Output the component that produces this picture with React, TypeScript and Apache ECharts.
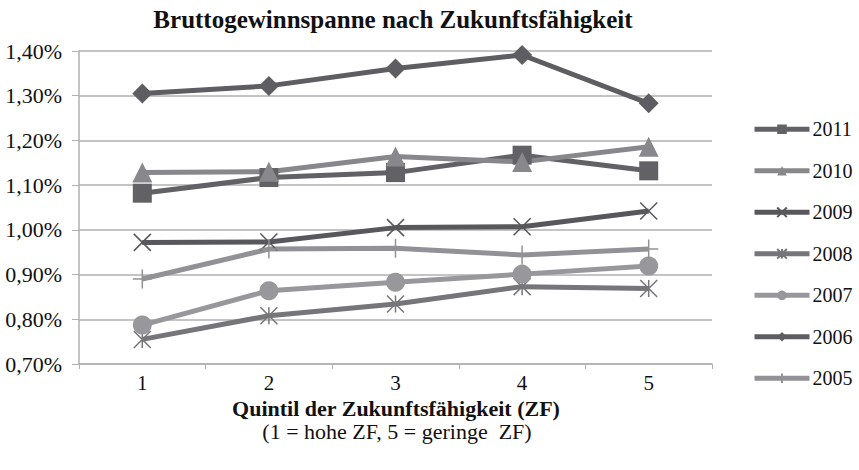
import React, { useEffect, useRef } from "react";
import * as echarts from "echarts";

const categories = ["1", "2", "3", "4", "5"];
const years = ["2011", "2010", "2009", "2008", "2007", "2006", "2005"];
const v2011 = [1.082, 1.117, 1.128, 1.167, 1.132];
const v2010 = [1.128, 1.13, 1.164, 1.152, 1.186];
const v2009 = [0.972, 0.973, 1.005, 1.007, 1.042];
const v2008 = [0.755, 0.808, 0.834, 0.873, 0.869];
const v2007 = [0.787, 0.864, 0.883, 0.901, 0.919];
const v2006 = [1.305, 1.322, 1.361, 1.391, 1.283];
const v2005 = [0.89, 0.957, 0.959, 0.944, 0.957];
const seriesValues = [v2011, v2010, v2009, v2008, v2007, v2006, v2005];
const colors = ["#626266", "#88888c", "#58585c", "#76767a", "#98989c", "#5e5e62", "#929296"];
const symbols = [
  "rect",
  "triangle",
  "path://M0,0L10,10M10,0L0,10",
  "path://M0,0L10,10M10,0L0,10M5,0L5,10",
  "circle",
  "diamond",
  "path://M5,0L5,10M0,5L10,5",
];
const symbolSizes = [19, 20, 17, 17, 19, 20, 19];
const strokeOnly = [false, false, true, true, false, false, true];

const FONT = "'Liberation Serif', 'Times New Roman', serif";

export default function App() {
  const ref = useRef<HTMLDivElement>(null);
  useEffect(() => {
    if (!ref.current) return;
    const chart = echarts.init(ref.current, null, { renderer: "svg" });
    const series = years.map((y, i) => ({
      name: y,
      type: "line",
      data: seriesValues[i],
      symbol: symbols[i],
      symbolSize: symbolSizes[i],
      showSymbol: true,
      lineStyle: { color: colors[i], width: 5 },
      itemStyle: strokeOnly[i]
        ? { color: colors[i], borderColor: colors[i], borderWidth: 1.5 }
        : { color: colors[i] },
    }));
    chart.setOption({
      animation: false,
      grid: { left: 79, right: 147, top: 51, bottom: 106 },
      xAxis: {
        type: "category",
        data: categories,
        boundaryGap: true,
        axisLine: { lineStyle: { color: "#b0b0b0", width: 1.5 } },
        axisTick: { show: true, length: 5, lineStyle: { color: "#b0b0b0" } },
        axisLabel: { color: "#111", fontFamily: FONT, fontSize: 21, margin: 8 },
      },
      yAxis: {
        type: "value",
        min: 0.7,
        max: 1.4,
        interval: 0.1,
        axisLine: { show: true, lineStyle: { color: "#b0b0b0", width: 1.5 } },
        axisTick: { show: true, length: 7, lineStyle: { color: "#b0b0b0" } },
        splitLine: { lineStyle: { color: "#b0b0b0", width: 1.5 } },
        axisLabel: {
          color: "#111",
          fontFamily: FONT,
          fontSize: 22,
          margin: 17,
          formatter: (v: number) => v.toFixed(2).replace(".", ",") + "%",
        },
      },
      legend: {
        orient: "vertical",
        left: 752,
        top: 119.3,
        padding: 0,
        itemWidth: 55,
        itemHeight: 12,
        itemGap: 21.5,
        data: years,
        lineStyle: { width: 5 },
        textStyle: { color: "#111", fontFamily: FONT, fontSize: 20, padding: [0, 0, 0, -2] },
      },
      graphic: [
        {
          type: "text",
          x: 393,
          y: 19,
          style: {
            text: "Bruttogewinnspanne nach Zukunftsfähigkeit",
            font: `bold 25px ${FONT}`,
            fill: "#111",
            textAlign: "center",
            textVerticalAlign: "middle",
          },
        },
        {
          type: "text",
          x: 396,
          y: 408,
          style: {
            text: "Quintil der Zukunftsfähigkeit (ZF)",
            font: `bold 22px ${FONT}`,
            fill: "#111",
            textAlign: "center",
            textVerticalAlign: "middle",
          },
        },
        {
          type: "text",
          x: 397,
          y: 431,
          style: {
            text: "(1 = hohe ZF, 5 = geringe  ZF)",
            font: `22px ${FONT}`,
            fill: "#111",
            textAlign: "center",
            textVerticalAlign: "middle",
          },
        },
      ],
      series,
    });
    return () => chart.dispose();
  }, []);
  return (
    <div
      ref={ref}
      style={{ position: "absolute", left: 0, top: 0, width: 859, height: 470 }}
    />
  );
}
